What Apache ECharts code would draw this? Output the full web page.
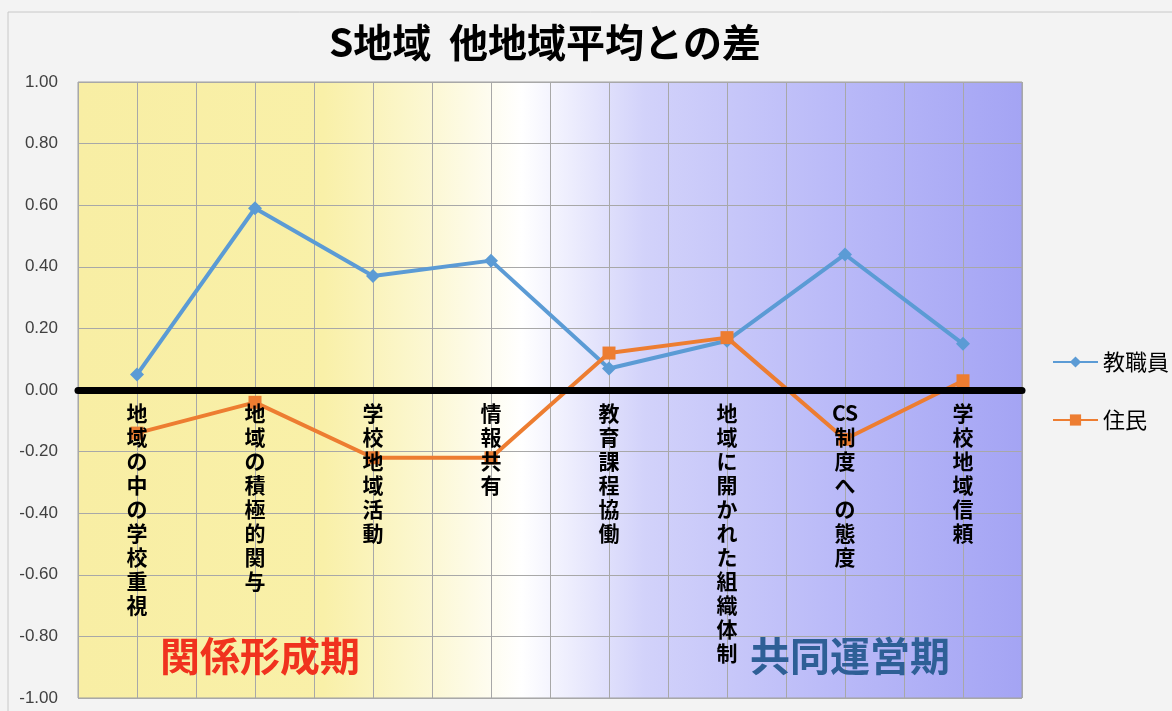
<!DOCTYPE html>
<html>
<head>
<meta charset="utf-8">
<script src="https://cdn.jsdelivr.net/npm/echarts@6/dist/echarts.min.js"></script>
<style>
html,body{margin:0;padding:0;background:#ffffff;}
#c{width:1172px;height:711px;}
</style>
</head>
<body>
<div id="c"></div>
<script>
const titleText = 'S地域  他地域平均との差';
const categories = ['地域の中の学校重視','地域の積極的関与','学校地域活動','情報共有','教育課程協働','地域に開かれた組織体制','CS制度への態度','学校地域信頼'];
const staffName = '教職員';
const residentName = '住民';
const staffValues = [0.05, 0.59, 0.37, 0.42, 0.07, 0.16, 0.44, 0.15];
const residentValues = [-0.14, -0.04, -0.22, -0.22, 0.12, 0.17, -0.16, 0.03];
const yMin = -1.0, yMax = 1.0, yStep = 0.2;
const phaseLabels = ['関係形成期', '共同運営期'];

function verticalize(s){
  const parts = [];
  let i = 0;
  while (i < s.length){
    if (s.slice(i, i+2) === 'CS'){ parts.push('CS'); i += 2; }
    else { parts.push(s[i]); i++; }
  }
  return parts.join('\n');
}

const gridTop = 82, gridBottom = 13, chartH = 711;
const plotH = chartH - gridTop - gridBottom;
const zeroOffset = -plotH * (0 - yMin) / (yMax - yMin);

const chart = echarts.init(document.getElementById('c'));
const fontJP = '"Noto Sans CJK JP", "Noto Sans", sans-serif';
chart.setOption({
  backgroundColor: '#f3f3f3',
  animation: false,
  textStyle: {fontFamily: fontJP},
  title: {
    text: titleText, left: 540, top: 18, textAlign: 'center',
    textStyle: {fontSize: 39, fontWeight: 'bold', color: '#000', fontFamily: fontJP}
  },
  legend: {
    orient: 'vertical', left: 1047, top: 346, itemGap: 36,
    itemWidth: 45, itemHeight: 14,
    textStyle: {fontSize: 22, color: '#000', fontFamily: fontJP},
    data: [staffName, residentName]
  },
  grid: {
    left: 78, right: 150, top: gridTop, bottom: gridBottom, show: true,
    containLabel: false, outerBoundsMode: 'none',
    borderColor: '#a0a0a0', borderWidth: 1,
    backgroundColor: new echarts.graphic.LinearGradient(0, 0, 1, 0, [
      {offset: 0, color: '#f8eea4'},
      {offset: 0.26, color: '#f9f0a8'},
      {offset: 0.38, color: '#fcf8d6'},
      {offset: 0.47, color: '#ffffff'},
      {offset: 0.6, color: '#d2d2fa'},
      {offset: 0.8, color: '#babaf8'},
      {offset: 1, color: '#a4a4f4'}
    ])
  },
  xAxis: [{
    type: 'category', data: categories, boundaryGap: true,
    position: 'bottom', offset: zeroOffset,
    axisLine: {onZero: false, lineStyle: {color: '#000', width: 7}},
    axisTick: {show: false},
    splitLine: {show: false},
    axisLabel: {
      interval: 0, formatter: v => verticalize(v),
      fontSize: 21, lineHeight: 24, fontWeight: 'bold', color: '#000',
      verticalAlign: 'top', margin: 11, fontFamily: fontJP
    },
    z: 10
  }, {
    type: 'value', min: 0, max: 16, interval: 1, position: 'top',
    axisLine: {show: false}, axisTick: {show: false}, axisLabel: {show: false},
    splitLine: {show: true, lineStyle: {color: '#a8a8a8', width: 1}}
  }],
  yAxis: {
    type: 'value', min: yMin, max: yMax, interval: yStep,
    axisLine: {show: false}, axisTick: {show: false},
    axisLabel: {formatter: v => v.toFixed(2), fontSize: 17, color: '#404040', margin: 20, fontFamily: '"Liberation Sans", Arial, sans-serif'},
    splitLine: {lineStyle: {color: '#a8a8a8', width: 1}}
  },
  series: [{
    name: staffName, type: 'line', data: staffValues,
    symbol: 'diamond', symbolSize: 14,
    lineStyle: {color: '#5b9bd5', width: 4},
    itemStyle: {color: '#5b9bd5'}, z: 2
  }, {
    name: residentName, type: 'line', data: residentValues,
    symbol: 'rect', symbolSize: 13,
    lineStyle: {color: '#ed7d31', width: 4},
    itemStyle: {color: '#ed7d31'}, z: 2
  }],
  graphic: [{
    type: 'rect', shape: {x: 8, y: 12, width: 1170, height: 705},
    style: {fill: 'none', stroke: '#c8c8c8', lineWidth: 1}, silent: true
  }, {
    type: 'text', left: 160, top: 636, z: 10,
    style: {text: phaseLabels[0], fontSize: 40, fontWeight: 'bold', fill: '#f0321e', fontFamily: fontJP}
  }, {
    type: 'text', left: 750, top: 636, z: 10,
    style: {text: phaseLabels[1], fontSize: 40, fontWeight: 'bold', fill: '#2e5f96', fontFamily: fontJP}
  }]
});
</script>
</body>
</html>
